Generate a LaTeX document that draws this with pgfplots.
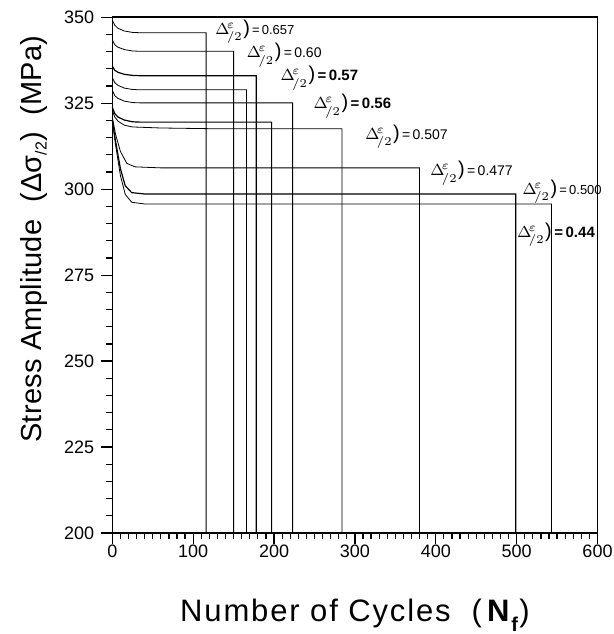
\documentclass[border=0pt]{standalone}
\usepackage{fontspec}
\setmainfont{Liberation Sans}
\newfontfamily\labfont[LetterSpace=6]{Liberation Sans}
\newfontfamily\ylabfont[LetterSpace=1]{Liberation Sans}
\usepackage{pgfplots}
\pgfplotsset{compat=1.18}
\newcommand\dlab[3]{{\fontsize{8.5}{9}\selectfont$\Delta^{\!\varepsilon}_{\!/2}$\hspace{0.3pt}{\fontsize{10}{10}\selectfont)}}{\fontsize{#1}{#1}\selectfont#3\,=\,#2}}
\begin{document}
\begin{tikzpicture}
\begin{axis}[
  scale only axis, width=242.6pt, height=257.85pt,
  xmin=0, xmax=600, ymin=200, ymax=350,
  xtick={0,100,...,600}, ytick={200,225,...,350},
  minor x tick num=9, minor y tick num=4,
  tick align=outside, xtick pos=bottom, ytick pos=left,
  major tick length=5.5pt, minor tick length=3pt,
  axis line style={line width=0.8pt},
  every tick/.style={black, line width=0.6pt},
  tick label style={font=\fontsize{9}{10}\selectfont},
  xticklabel style={yshift=3pt},
  /pgf/number format/assume math mode=true,
  /pgf/number format/1000 sep={},
  cycle list={{black, solid, line width=0.6pt}},
  every axis plot/.append style={no marks},
  clip=false,
]
\addplot coordinates {(0,349.2)(3,347.7)(7,346.8)(15,346.0)(25,345.6)(35,345.5)(116,345.5)(116,200)};
\addplot coordinates {(0,343.4)(3,342.0)(7,341.3)(15,340.6)(25,340.2)(35,340.1)(150,340.1)(150,200)};
\addplot coordinates {(0,335.8)(3,334.6)(7,334.0)(15,333.4)(25,333.1)(35,333.0)(178,333.0)(178,200)};
\addplot coordinates {(0,332.5)(3,331.0)(7,330.2)(15,329.4)(25,329.0)(35,328.9)(166,328.9)(166,200)};
\addplot coordinates {(0,328.8)(3,327.2)(7,326.4)(15,325.6)(25,325.2)(35,325.1)(223,325.1)(223,200)};
\addplot coordinates {(0,323.8)(3,322.0)(7,321.0)(15,320.1)(25,319.6)(35,319.5)(197,319.5)(197,200)};
\addplot coordinates {(0,323.0)(3,321.0)(7,319.8)(15,318.6)(25,318.1)(60,317.8)(120,317.6)(284,317.6)(284,200)};
\addplot coordinates {(0,321.0)(4,316.0)(10,311.0)(18,307.5)(28,306.5)(60,306.2)(380,306.2)(380,200)};
\addplot coordinates {(0,320.0)(4,314.0)(10,306.0)(16,301.0)(24,299.0)(40,298.6)(499,298.6)(499,200)};
\addplot coordinates {(0,320.0)(4,313.0)(10,304.0)(16,298.5)(24,296.2)(40,295.7)(543,295.7)(543,200)};
\node[anchor=west, inner sep=0pt] at (axis cs:127,345.8) {\dlab{6.5}{0.657}{}};
\node[anchor=west, inner sep=0pt] at (axis cs:166,339.0) {\dlab{7}{0.60}{}};
\node[anchor=west, inner sep=0pt] at (axis cs:207.7,332.3) {\dlab{7.5}{0.57}{\bfseries}};
\node[anchor=west, inner sep=0pt] at (axis cs:248.5,324.2) {\dlab{7.5}{0.56}{\bfseries}};
\node[anchor=west, inner sep=0pt] at (axis cs:312.4,315.3) {\dlab{7}{0.507}{}};
\node[anchor=west, inner sep=0pt] at (axis cs:392.8,304.7) {\dlab{7}{0.477}{}};
\node[anchor=west, inner sep=0pt] at (axis cs:507,299.3) {\dlab{6.5}{0.500}{}};
\node[anchor=west, inner sep=0pt] at (axis cs:500.4,286.7) {\dlab{7.5}{0.44}{\bfseries}};
\coordinate (ylab) at (rel axis cs:0,0.57);
\coordinate (xlab) at (rel axis cs:0.5,0);
\coordinate (bl) at (rel axis cs:0,0);
\coordinate (tr) at (rel axis cs:1,1);
\end{axis}
\node[rotate=90, anchor=base, inner sep=0pt, font=\ylabfont\fontsize{14.5}{16}\selectfont] at ([xshift=-35.15pt]ylab) {Stress Amplitude\ \ (Δσ\raisebox{-0.3ex}{\fontsize{8}{8}\selectfont/2})\ \ (MPa)};
\node[anchor=base, inner sep=0pt, font=\labfont\fontsize{15.5}{17}\selectfont] at ([yshift=-44.35pt]xlab) {Number of Cycles\ \ (\,\textbf{N}\raisebox{-0.6ex}{\fontsize{10}{10}\selectfont\textbf{f}})};
\pgfresetboundingbox
\path ([xshift=-56.15pt,yshift=-50.5pt]bl) rectangle ([xshift=7.75pt,yshift=8.65pt]tr);
\end{tikzpicture}
\end{document}
